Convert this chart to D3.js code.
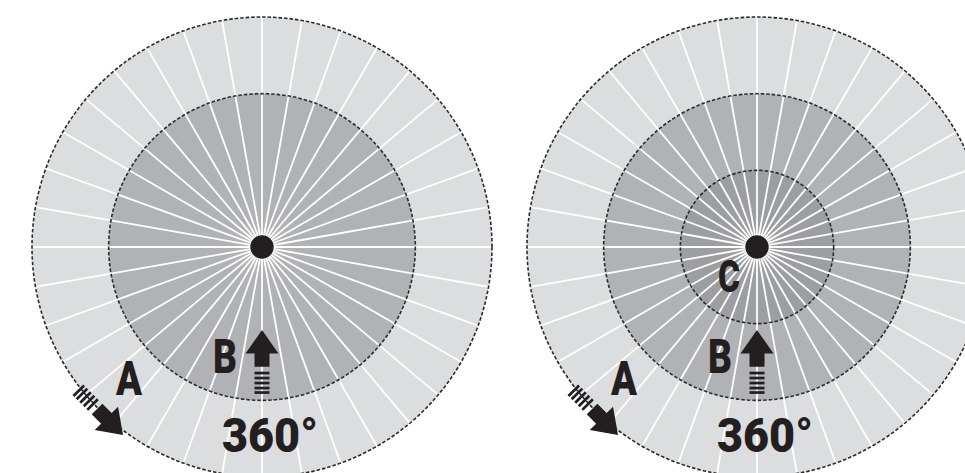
<!DOCTYPE html>
<html>
<head>
<meta charset="utf-8">
<script src="https://cdn.jsdelivr.net/npm/d3@7"></script>
<style>
  html, body { margin: 0; padding: 0; background: #fff; overflow: hidden; }
  text { font-family: Roboto, "Liberation Sans", sans-serif; font-weight: 900; fill: #231f20; }
</style>
</head>
<body>
<script>
// two dials, left has two zones, right has three
let dials = ["left", "right"];
let dialLevels = [[3, 2], [3, 2, 1]];
let levelColors = {3: "#dcdddf", 2: "#b1b2b5", 1: "#9d9ea1"};

// spoke directions in degrees
let spokeAngles = [0, 10, 20, 30, 40, 50, 60, 70, 80, 90, 100, 110, 120, 130, 140, 150, 160, 170,
                   180, 190, 200, 210, 220, 230, 240, 250, 260, 270, 280, 290, 300, 310, 320, 330, 340, 350];

let labelTexts = [["A", "B", "360°"], ["A", "B", "360°", "C"]];

let width = 965, height = 473;

let svg = d3.select("body").append("svg")
    .attr("width", width)
    .attr("height", height);

let centerX = d3.scalePoint().domain(dials).range([262, 757]);
let centerY = 247;
let radius = d3.scaleLinear().domain([0, 3]).range([0, 230]);
let angle = d3.scaleLinear().domain([0, 360]).range([0, 2 * Math.PI]);

// where each label sits relative to the dial centre
let labelPlace = {
    "A":    {dx: -146, dy: 148, len: 26, size: 49},
    "B":    {dx: -49,  dy: 126, len: 24, size: 49},
    "360°": {dx: -40,  dy: 205, len: 96, size: 49},
    "C":    {dx: -39,  dy: 45,  len: 22, size: 45}
};

// up-pointing arrow, tip at 0,0
let arrowHead = "M0,0 L16.5,23.5 L7.5,23.5 L7.5,36.7 L-7.5,36.7 L-7.5,23.5 L-16.5,23.5 Z";
let stripeTops = [41.7, 46.7, 51.7, 56.7, 61.2];

function drawArrow(g, x, y, rot) {
    let a = g.append("g").attr("transform", `translate(${x},${y}) rotate(${rot})`);
    a.append("path").attr("d", arrowHead).attr("fill", "#231f20");
    a.selectAll("rect").data(stripeTops).enter().append("rect")
        .attr("x", -7.5).attr("y", (d) => d)
        .attr("width", 15).attr("height", 2.7)
        .attr("fill", "#231f20");
}

dials.forEach((dial, i) => {
    let cx = centerX(dial);
    let g = svg.append("g").attr("transform", `translate(${cx},${centerY})`);

    g.selectAll("circle.zone").data(dialLevels[i]).enter().append("circle")
        .attr("class", "zone")
        .attr("r", (d) => radius(d))
        .attr("fill", (d) => levelColors[d]);

    g.selectAll("line.spoke").data(spokeAngles).enter().append("line")
        .attr("class", "spoke")
        .attr("x1", 0).attr("y1", 0)
        .attr("x2", (d) => radius(3) * Math.sin(angle(d)))
        .attr("y2", (d) => -radius(3) * Math.cos(angle(d)))
        .attr("stroke", "#fff")
        .attr("stroke-width", 1.8);

    g.selectAll("circle.edge").data(dialLevels[i]).enter().append("circle")
        .attr("class", "edge")
        .attr("r", (d) => radius(d))
        .attr("fill", "none")
        .attr("stroke", "#2b2b2d")
        .attr("stroke-width", 1.6)
        .attr("stroke-dasharray", "3.5,2");

    g.append("circle").attr("r", 11.7).attr("fill", "#231f20");

    drawArrow(g, 0, 83, 0);
    drawArrow(g, -139, 188, 135);

    g.selectAll("text").data(labelTexts[i]).enter().append("text")
        .attr("x", (d) => labelPlace[d].dx)
        .attr("y", (d) => labelPlace[d].dy)
        .attr("font-size", (d) => labelPlace[d].size)
        .attr("textLength", (d) => labelPlace[d].len)
        .attr("lengthAdjust", "spacingAndGlyphs")
        .text((d) => d);
});
</script>
</body>
</html>
